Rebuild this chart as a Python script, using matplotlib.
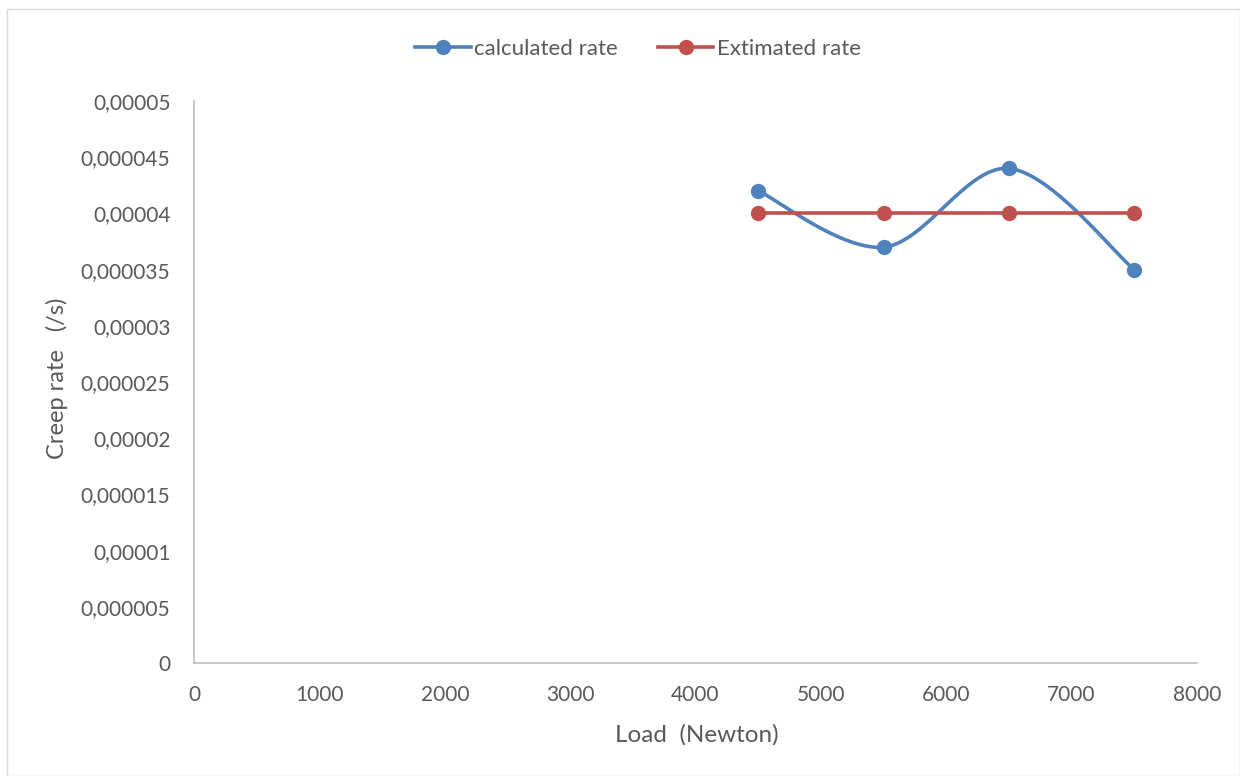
import numpy as np
import matplotlib.pyplot as plt
from matplotlib.patches import Rectangle

plt.rcParams['font.family'] = ['Lato', 'DejaVu Sans']

load = [4500, 5500, 6500, 7500]
calculated = [0.000042, 0.000037, 0.000044, 0.000035]
estimated = [0.00004, 0.00004, 0.00004, 0.00004]

x_ticks = [0, 1000, 2000, 3000, 4000, 5000, 6000, 7000, 8000]
y_ticks = [0, 0.000005, 0.00001, 0.000015, 0.00002, 0.000025,
           0.00003, 0.000035, 0.00004, 0.000045, 0.00005]
y_tick_labels = ["0", "0,000005", "0,00001", "0,000015", "0,00002", "0,000025",
                 "0,00003", "0,000035", "0,00004", "0,000045", "0,00005"]

BLUE = "#4F81BD"
RED = "#C0504D"
TXT = "#595959"
LW = 2.6
MS = 10


def smooth(xs, ys, n=40):
    # bezier smoothing through the points, like a spreadsheet "smoothed line"
    p = np.column_stack([xs, ys]).astype(float)
    out = []
    for i in range(len(p) - 1):
        p0 = p[i - 1] if i > 0 else p[i]
        p1, p2 = p[i], p[i + 1]
        p3 = p[i + 2] if i + 2 < len(p) else p[i + 1]
        c1 = p1 + (p2 - p0) / 6
        c2 = p2 - (p3 - p1) / 6
        t = np.linspace(0, 1, n)[:, None]
        seg = ((1 - t) ** 3 * p1 + 3 * (1 - t) ** 2 * t * c1
               + 3 * (1 - t) * t ** 2 * c2 + t ** 3 * p2)
        out.append(seg if i == 0 else seg[1:])
    s = np.vstack(out)
    return s[:, 0], s[:, 1]


fig = plt.figure(figsize=(12.4, 7.76), dpi=100)
fig.patches.append(Rectangle((0.006, 0.0), 0.994, 0.988, transform=fig.transFigure,
                             fill=False, edgecolor="#D9D9D9", linewidth=1))
ax = fig.add_axes([194 / 1240, 113 / 776, 1003 / 1240, 562 / 776])

sx, sy = smooth(load, calculated)
ax.plot(sx, sy, color=BLUE, linewidth=LW, solid_capstyle="round", zorder=2)
ax.plot(load, calculated, "o", color=BLUE, markersize=MS, zorder=3)
ax.plot(load, estimated, color=RED, linewidth=LW, marker="o", markersize=MS, zorder=4)

# legend handles
h1, = ax.plot([], [], color=BLUE, linewidth=LW, marker="o", markersize=MS)
h2, = ax.plot([], [], color=RED, linewidth=LW, marker="o", markersize=MS)
fig.legend([h1, h2], ["calculated rate", "Extimated rate"], loc="center",
           bbox_to_anchor=(638 / 1240, 1 - 49 / 776), ncol=2, frameon=False,
           fontsize=16, handlelength=2.5, columnspacing=1.8, handletextpad=0.15,
           labelcolor=TXT)

ax.set_xlim(0, 8000)
ax.set_ylim(0, 0.00005)
ax.set_xticks(x_ticks)
ax.set_yticks(y_ticks)
ax.set_yticklabels(y_tick_labels)
ax.tick_params(length=0, labelsize=15, colors=TXT)
ax.tick_params(axis="y", pad=17)
ax.tick_params(axis="x", pad=16)

for side in ["top", "right"]:
    ax.spines[side].set_visible(False)
for side in ["left", "bottom"]:
    ax.spines[side].set_color("#BFBFBF")
    ax.spines[side].set_linewidth(1.2)

ax.set_xlabel("Load  (Newton)", fontsize=17.5, color=TXT)
ax.set_ylabel("Creep rate   (/s)", fontsize=17, color=TXT)
ax.xaxis.set_label_coords(0.5015, -0.108)
ax.yaxis.set_label_coords(-0.1256, 0.507)

fig.savefig("out.png", dpi=100)
